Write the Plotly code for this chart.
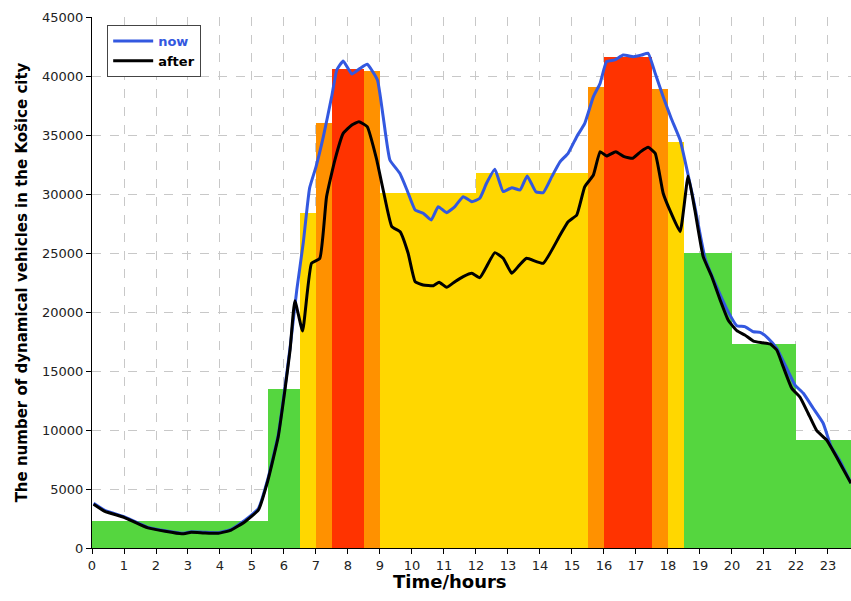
import plotly.graph_objects as go

# Step bars (time intervals, vehicle counts, category colour)
bar_start = [0, 5.5, 6.5, 7.0, 7.5, 8.5, 9.0, 12.0, 15.5, 16.0, 17.5, 18.0, 18.5, 20.0, 22.0]
bar_end   = [5.5, 6.5, 7.0, 7.5, 8.5, 9.0, 12.0, 15.5, 16.0, 17.5, 18.0, 18.5, 20.0, 22.0, 24.0]
bar_value = [2250, 13500, 28400, 36000, 40600, 40400, 30100, 31800, 39100, 41600, 38900, 34400, 25000, 17300, 9150]
bar_level = ["green", "green", "yellow", "orange", "red", "orange", "yellow", "yellow",
             "orange", "red", "orange", "yellow", "green", "green", "green"]
level_colors = {"green": "#55d63f", "yellow": "#ffd700", "orange": "#ff9100", "red": "#ff3300"}

# "now" series
now_t = [0.05, 0.4, 1.0, 1.75, 2.8, 3.1, 3.5, 3.95, 4.35, 4.78, 5.2, 5.5, 5.82, 6.03, 6.2, 6.4,
         6.6, 6.8, 7.0, 7.23, 7.49, 7.65, 7.85, 8.12, 8.38, 8.6, 8.92, 9.1, 9.31, 9.62, 9.85,
         10.1, 10.35, 10.6, 10.82, 11.08, 11.34, 11.6, 11.87, 12.12, 12.33, 12.59, 12.85,
         13.12, 13.38, 13.6, 13.87, 14.1, 14.37, 14.63, 14.88, 15.15, 15.4, 15.67, 15.88,
         16.08, 16.34, 16.6, 16.92, 17.18, 17.38, 17.6, 17.85, 18.1, 18.38, 18.63, 18.84,
         19.16, 19.52, 19.88, 20.15, 20.4, 20.67, 20.88, 21.13, 21.4, 21.66, 21.97, 22.23,
         22.54, 22.85, 23.1, 23.35, 23.72]
now_v = [3800, 3200, 2650, 1750, 1250, 1380, 1330, 1300, 1580, 2350, 3350, 5900, 9600, 13600, 17200, 21870,
         25820, 30500, 32300, 34860, 38250, 40510, 41270, 40170, 40650, 40990, 39660, 36550, 32880, 31750, 30300,
         28640, 28370, 27800, 28930, 28420, 28930, 29770, 29350, 29640, 30910, 32090, 30200,
         30540, 30340, 31530, 30200, 30110, 31470, 32740, 33450, 34860, 35990, 38250, 39380,
         41210, 41360, 41780, 41640, 41780, 41930, 40230, 38250, 36420, 34580, 31610, 28930,
         24550, 22150, 20030, 18840, 18760, 18330, 18280, 17770, 16920, 15510, 13810, 13110,
         11840, 10570, 8590, 7500, 5500]

# "after" series
after_t = [0.05, 0.4, 1.0, 1.75, 2.8, 3.1, 3.5, 3.95, 4.35, 4.78, 5.2, 5.5, 5.82, 6.03, 6.19, 6.34,
           6.58, 6.86, 7.12, 7.33, 7.59, 7.85, 8.12, 8.34, 8.6, 8.9, 9.1, 9.37, 9.63, 9.88,
           10.1, 10.35, 10.67, 10.85, 11.08, 11.34, 11.6, 11.87, 12.12, 12.59, 12.85, 13.12,
           13.35, 13.58, 14.1, 14.63, 14.88, 15.15, 15.4, 15.67, 15.88, 16.08, 16.37, 16.63,
           16.9, 17.15, 17.38, 17.6, 17.85, 18.1, 18.38, 18.63, 18.84, 19.1, 19.37, 19.63,
           19.88, 20.15, 20.4, 20.67, 20.93, 21.19, 21.4, 21.6, 21.87, 22.13, 22.38, 22.65,
           22.96, 23.32, 23.72]
after_v = [3700, 3100, 2600, 1700, 1200, 1330, 1280, 1250, 1520, 2230, 3220, 5760, 9430, 13400, 16780, 20960,
           18390, 24130, 24550, 29770, 32880, 35140, 35850, 36130, 35710, 32880, 30340, 27230, 26800, 24980,
           22570, 22290, 22230, 22520, 22090, 22570, 23000, 23280, 22910, 25030, 24550, 23280,
           23950, 24550, 24130, 26530, 27650, 28220, 30620, 31610, 33590, 33220, 33590, 33160,
           33030, 33590, 33960, 33450, 30060, 28370, 26810, 31530, 28640, 24690, 22990, 21020,
           19320, 18420, 18050, 17540, 17400, 17290, 16780, 15370, 13530, 12770, 11420, 9940,
           9150, 7460, 5480]

x_ticks = list(range(0, 24))
y_ticks = list(range(0, 45001, 5000))

fig = go.Figure()
fig.add_trace(go.Bar(
    x=[(s + e) / 2 for s, e in zip(bar_start, bar_end)],
    y=bar_value,
    width=[e - s for s, e in zip(bar_start, bar_end)],
    marker=dict(color=[level_colors[c] for c in bar_level], line=dict(width=0)),
    showlegend=False, hoverinfo="skip",
))
fig.add_trace(go.Scatter(
    x=now_t, y=now_v, mode="lines",
    line=dict(color="#3358e0", width=3, shape="spline", smoothing=0.4),
    name="<b><span style='color:#3358e0'>now</span></b>",
))
fig.add_trace(go.Scatter(
    x=after_t, y=after_v, mode="lines",
    line=dict(color="#000000", width=3, shape="spline", smoothing=0.4),
    name="<b>after</b>",
))

fig.update_layout(
    width=851, height=601,
    margin=dict(l=92, r=0, t=17, b=53),
    paper_bgcolor="white", plot_bgcolor="white",
    font=dict(family="DejaVu Sans", size=13, color="#222222"),
    legend=dict(x=0.02, y=0.985, xanchor="left", yanchor="top",
                bgcolor="white", bordercolor="#444444", borderwidth=1,
                font=dict(family="DejaVu Sans", size=13, color="#000000"),
                tracegroupgap=0, itemwidth=40),
    bargap=0,
    annotations=[dict(text="<b>Time/hours</b>", xref="paper", yref="paper",
                      x=0.472, y=0, xanchor="center", yanchor="top", yshift=-21,
                      showarrow=False,
                      font=dict(family="DejaVu Sans", size=18, color="#000000"))],
)
fig.update_xaxes(
    range=[0, 23.72], tickmode="array", tickvals=x_ticks, ticktext=[str(t) for t in x_ticks],
    showgrid=True, gridcolor="#c8c8c8", griddash="dash", gridwidth=1,
    showline=True, linecolor="#000000", linewidth=1,
    ticks="outside", ticklen=5, tickcolor="#000000",
    zeroline=False, automargin=False,
)
fig.update_yaxes(
    range=[0, 45000], tickmode="array", tickvals=y_ticks, ticktext=[str(t) for t in y_ticks],
    showgrid=True, gridcolor="#c8c8c8", griddash="dash", gridwidth=1,
    showline=True, linecolor="#000000", linewidth=1,
    ticks="outside", ticklen=5, tickcolor="#000000",
    zeroline=False, automargin=False,
    title=dict(text="<b>The number of dynamical vehicles in the Košice city</b>",
               font=dict(family="DejaVu Sans", size=15, color="#000000"), standoff=10),
)

fig.write_html("out.html", config={"displayModeBar": False},
               post_script="document.body.style.margin='0';document.body.style.overflow='hidden';")
